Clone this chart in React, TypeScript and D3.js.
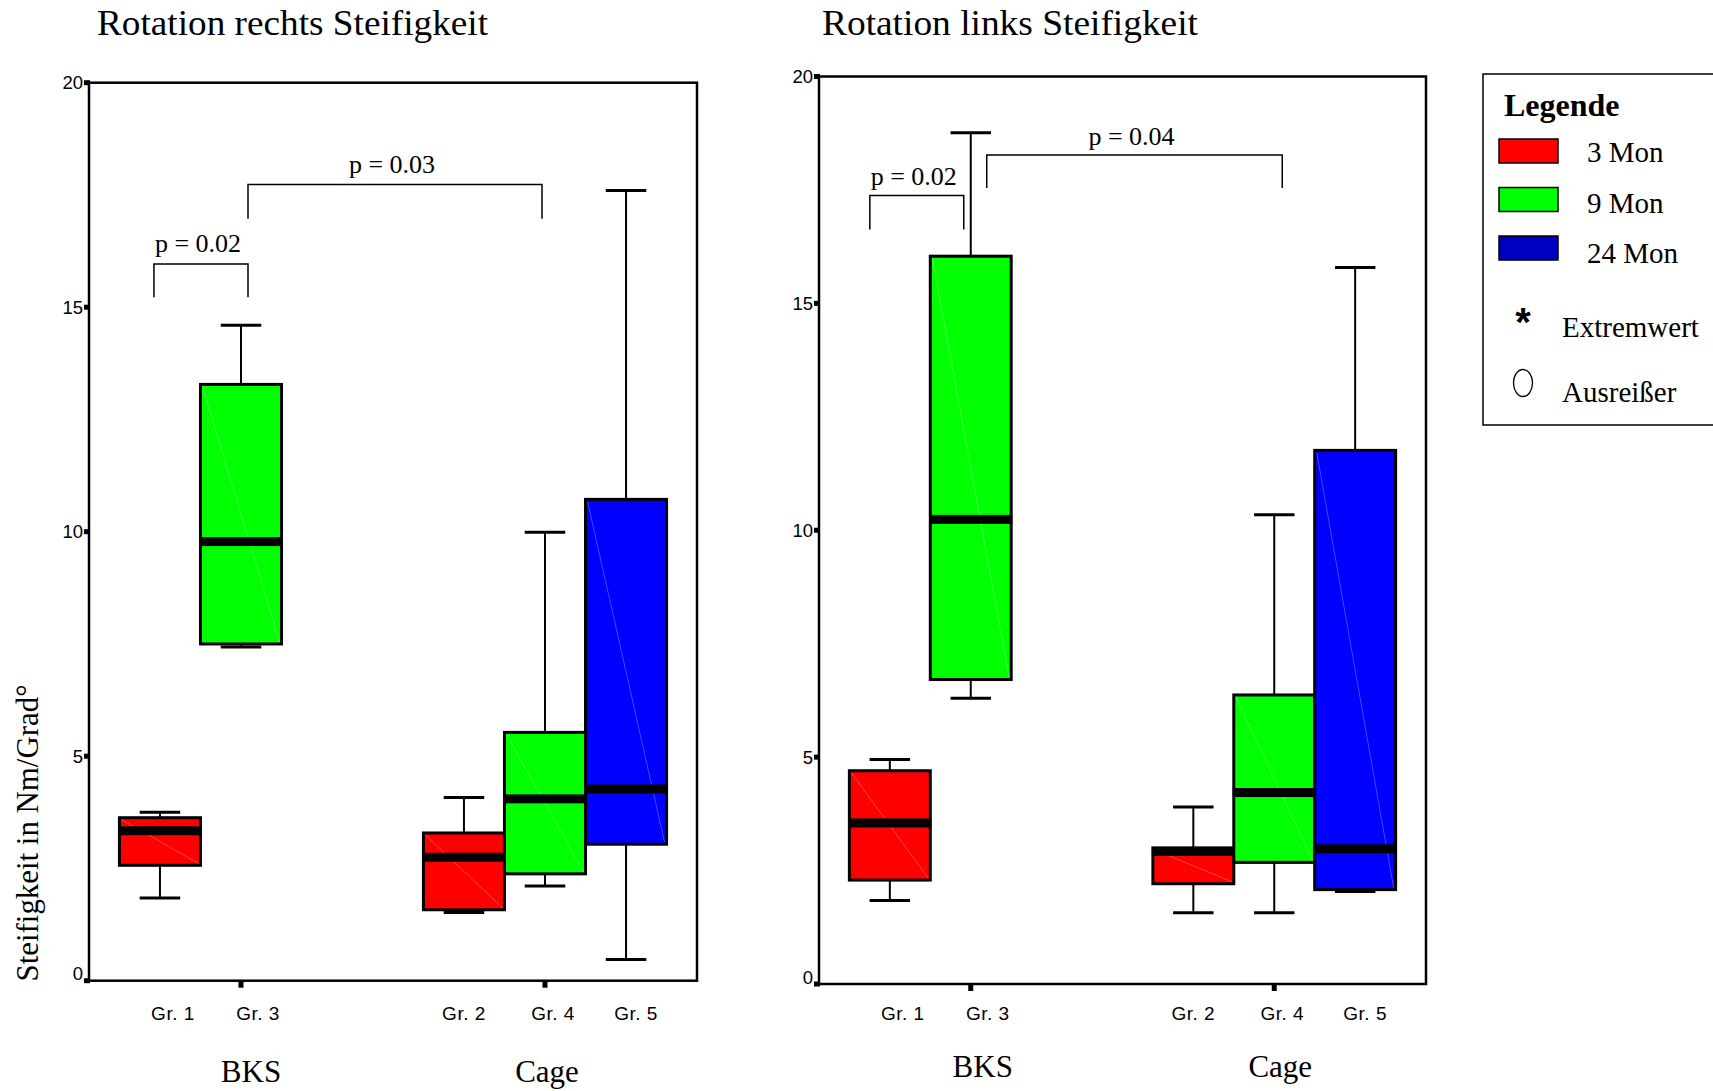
import React from 'react';
import * as d3 from 'd3';

// Study groups and their cluster / follow-up period
const groupNames = ['Gr. 1', 'Gr. 3', 'Gr. 2', 'Gr. 4', 'Gr. 5'];
const groupCluster = ['BKS', 'BKS', 'Cage', 'Cage', 'Cage'];
const groupPeriod = ['3 Mon', '9 Mon', '3 Mon', '9 Mon', '24 Mon'];

const clusters = ['BKS', 'Cage'];
const periods = ['3 Mon', '9 Mon', '24 Mon'];

// Rotation rechts: five-number summaries per group (Nm/Grad°)
const rechtsLow = [1.84, 7.43, 1.52, 2.11, 0.47];
const rechtsQ1 = [2.57, 7.5, 1.58, 2.38, 3.04];
const rechtsMedian = [3.34, 9.78, 2.75, 4.05, 4.27];
const rechtsQ3 = [3.63, 13.28, 3.29, 5.53, 10.72];
const rechtsHigh = [3.75, 14.6, 4.08, 9.99, 17.6];

// Rotation links: five-number summaries per group (Nm/Grad°)
const linksLow = [1.84, 6.3, 1.57, 1.57, 2.04];
const linksQ1 = [2.29, 6.71, 2.21, 2.68, 2.08];
const linksMedian = [3.55, 10.24, 2.92, 4.22, 2.98];
const linksQ3 = [4.7, 16.04, 3.0, 6.37, 11.76];
const linksHigh = [4.95, 18.76, 3.9, 10.34, 15.79];

// Significance brackets: compared groups, p label, bar level and leg end (axis units)
const rechtsPairs = [['Gr. 1', 'Gr. 3'], ['Gr. 3', 'Gr. 4']];
const rechtsPLabels = ['p = 0.02', 'p = 0.03'];
const rechtsBarLevel = [15.96, 17.73];
const rechtsLegEnd = [15.22, 16.97];

const linksPairs = [['Gr. 1', 'Gr. 3'], ['Gr. 3', 'Gr. 4']];
const linksPLabels = ['p = 0.02', 'p = 0.04'];
const linksBarLevel = [17.38, 18.27];
const linksLegEnd = [16.63, 17.54];

const yTicks = [0, 5, 10, 15, 20];

const fillColors: Record<string, string> = { '3 Mon': '#ff0000', '9 Mon': '#00ff00', '24 Mon': '#0000ff' };
const legendColors: Record<string, string> = { '3 Mon': '#ff0000', '9 Mon': '#00ff00', '24 Mon': '#0000c0' };

// Pixel nudges for the text under the boxes
const labelShift: Record<string, number> = { 'Gr. 1': 13, 'Gr. 3': 17, 'Gr. 2': 0, 'Gr. 4': 8, 'Gr. 5': 10 };

const SERIF = '"Liberation Serif", "Times New Roman", serif';
const SANS = '"Liberation Sans", Arial, sans-serif';

type PanelProps = {
  title: string;
  titleX: number;
  titleWidth: number;
  frame: { x0: number; x1: number; y0: number; y1: number };
  low: number[];
  q1: number[];
  median: number[];
  q3: number[];
  high: number[];
  pairs: string[][];
  pLabels: string[];
  barLevel: number[];
  legEnd: number[];
  pairNudge: number[][];
  pTextGap: number;
  clusterLabelNudge: number[];
  clusterLabelY: number;
};

function Panel(p: PanelProps) {
  const { x0, x1, y0, y1 } = p.frame;
  const y = d3.scaleLinear().domain([0, 20]).range([y1, y0]);
  const xc = d3.scalePoint<string>().domain(clusters).range([x0, x1]).padding(0.5);
  const boxW = (x1 - x0) * 0.1333;
  const xs = d3.scaleBand<string>().domain(periods).range([-1.5 * boxW, 1.5 * boxW]).padding(0);
  const center = (i: number) => (xc(groupCluster[i]) as number) + (xs(groupPeriod[i]) as number) + boxW / 2;
  const idx = (g: string) => groupNames.indexOf(g);

  return (
    <g>
      <text x={p.titleX} y={35} fontFamily={SERIF} fontSize={36} textLength={p.titleWidth} lengthAdjust="spacingAndGlyphs">
        {p.title}
      </text>

      {/* boxes */}
      {groupNames.map((g, i) => {
        const cx = center(i);
        const bx0 = cx - boxW / 2;
        const bx1 = cx + boxW / 2;
        const capW = boxW / 2;
        return (
          <g key={g}>
            <line x1={cx} x2={cx} y1={y(p.high[i])} y2={y(p.q3[i])} stroke="#000" strokeWidth={2} />
            <line x1={cx} x2={cx} y1={y(p.q1[i])} y2={y(p.low[i])} stroke="#000" strokeWidth={2} />
            <line x1={cx - capW / 2} x2={cx + capW / 2} y1={y(p.high[i])} y2={y(p.high[i])} stroke="#000" strokeWidth={3} />
            <line x1={cx - capW / 2} x2={cx + capW / 2} y1={y(p.low[i])} y2={y(p.low[i])} stroke="#000" strokeWidth={3} />
            <rect
              x={bx0}
              y={y(p.q3[i])}
              width={boxW}
              height={y(p.q1[i]) - y(p.q3[i])}
              fill={fillColors[groupPeriod[i]]}
              stroke="#000"
              strokeWidth={3}
            />
            <line
              x1={bx0 + 2}
              y1={y(p.q3[i]) + 2}
              x2={bx1 - 2}
              y2={y(p.q1[i]) - 2}
              stroke="#fff"
              strokeOpacity={0.35}
              strokeWidth={0.8}
            />
            <rect x={bx0 - 1} y={y(p.median[i]) - 4.5} width={boxW + 2} height={9} fill="#000" />
          </g>
        );
      })}

      {/* frame */}
      <rect x={x0} y={y0} width={x1 - x0} height={y1 - y0} fill="none" stroke="#000" strokeWidth={2.5} />

      {/* y ticks */}
      {yTicks.map((t) => (
        <g key={t}>
          <rect x={x0 - 5} y={y(t) - 2.5} width={6} height={5} fill="#000" />
          <text
            x={x0 - 6}
            y={y(t) - (t === 0 ? 7 : 0)}
            dy="0.36em"
            textAnchor="end"
            fontFamily={SANS}
            fontSize={18.5}
          >
            {t}
          </text>
        </g>
      ))}

      {/* cluster ticks */}
      {clusters.map((c) => (
        <rect key={c} x={(xc(c) as number) - 2.5} y={y1} width={5} height={7} fill="#000" />
      ))}

      {/* group labels */}
      {groupNames.map((g, i) => (
        <text
          key={g}
          x={center(i) + labelShift[g]}
          y={1020}
          textAnchor="middle"
          fontFamily={SANS}
          fontSize={19}
          letterSpacing={0.5}
        >
          {g}
        </text>
      ))}

      {/* cluster labels */}
      {clusters.map((c, k) => (
        <text
          key={c}
          x={(xc(c) as number) + p.clusterLabelNudge[k]}
          y={p.clusterLabelY}
          textAnchor="middle"
          fontFamily={SERIF}
          fontSize={31}
        >
          {c}
        </text>
      ))}

      {/* significance brackets */}
      {p.pairs.map((pair, k) => {
        const xa = center(idx(pair[0])) + p.pairNudge[k][0];
        const xb = center(idx(pair[1])) + p.pairNudge[k][1];
        const yb = y(p.barLevel[k]);
        const yl = y(p.legEnd[k]);
        return (
          <g key={k}>
            <path d={`M${xa},${yl}V${yb}H${xb}V${yl}`} fill="none" stroke="#000" strokeWidth={1.5} />
            <text x={(xa + xb) / 2 - 3} y={yb - p.pTextGap} textAnchor="middle" fontFamily={SERIF} fontSize={26}>
              {p.pLabels[k]}
            </text>
          </g>
        );
      })}
    </g>
  );
}

function Legend() {
  return (
    <g>
      <rect x={1483} y={74} width={300} height={351} fill="#fff" stroke="#000" strokeWidth={1.5} />
      <text x={1504} y={116} fontFamily={SERIF} fontSize={32} fontWeight="bold">
        Legende
      </text>
      {periods.map((per, i) => {
        const ry = 139 + i * 48.5;
        return (
          <g key={per}>
            <rect x={1499} y={ry} width={59} height={24} fill={legendColors[per]} stroke="#000" strokeWidth={1.5} />
            <text x={1587} y={162 + i * 50.5} fontFamily={SERIF} fontSize={29}>
              {per}
            </text>
          </g>
        );
      })}
      <text x={1523} y={336} textAnchor="middle" fontFamily={SANS} fontSize={40} fontWeight="bold">
        *
      </text>
      <text x={1562} y={337} fontFamily={SERIF} fontSize={29}>
        Extremwert
      </text>
      <ellipse cx={1523} cy={383} rx={9.5} ry={13.5} fill="none" stroke="#000" strokeWidth={1.3} />
      <text x={1562} y={402} fontFamily={SERIF} fontSize={29}>
        Ausreißer
      </text>
    </g>
  );
}

export default function App() {
  return (
    <svg
      width={1713}
      height={1091}
      style={{ position: 'absolute', left: 0, top: 0, background: '#fff' }}
      xmlns="http://www.w3.org/2000/svg"
    >
      <rect width={1713} height={1091} fill="#fff" />
      <text
        transform="translate(38,833) rotate(-90)"
        textAnchor="middle"
        fontFamily={SERIF}
        fontSize={31}
        textLength={297}
        lengthAdjust="spacingAndGlyphs"
      >
        Steifigkeit in Nm/Grad°
      </text>
      <Panel
        title="Rotation rechts Steifigkeit"
        titleX={97}
        titleWidth={391}
        frame={{ x0: 89, x1: 697, y0: 82.7, y1: 980.7 }}
        low={rechtsLow}
        q1={rechtsQ1}
        median={rechtsMedian}
        q3={rechtsQ3}
        high={rechtsHigh}
        pairs={rechtsPairs}
        pLabels={rechtsPLabels}
        barLevel={rechtsBarLevel}
        legEnd={rechtsLegEnd}
        pairNudge={[[-6, 7], [7, -3]]}
        pTextGap={12}
        clusterLabelNudge={[10, 2]}
        clusterLabelY={1082}
      />
      <Panel
        title="Rotation links Steifigkeit"
        titleX={822}
        titleWidth={376}
        frame={{ x0: 819, x1: 1426, y0: 76.5, y1: 984 }}
        low={linksLow}
        q1={linksQ1}
        median={linksMedian}
        q3={linksQ3}
        high={linksHigh}
        pairs={linksPairs}
        pLabels={linksPLabels}
        barLevel={linksBarLevel}
        legEnd={linksLegEnd}
        pairNudge={[[-20, -7], [16, 8]]}
        pTextGap={10}
        clusterLabelNudge={[12, 6]}
        clusterLabelY={1077}
      />
      <Legend />
    </svg>
  );
}
